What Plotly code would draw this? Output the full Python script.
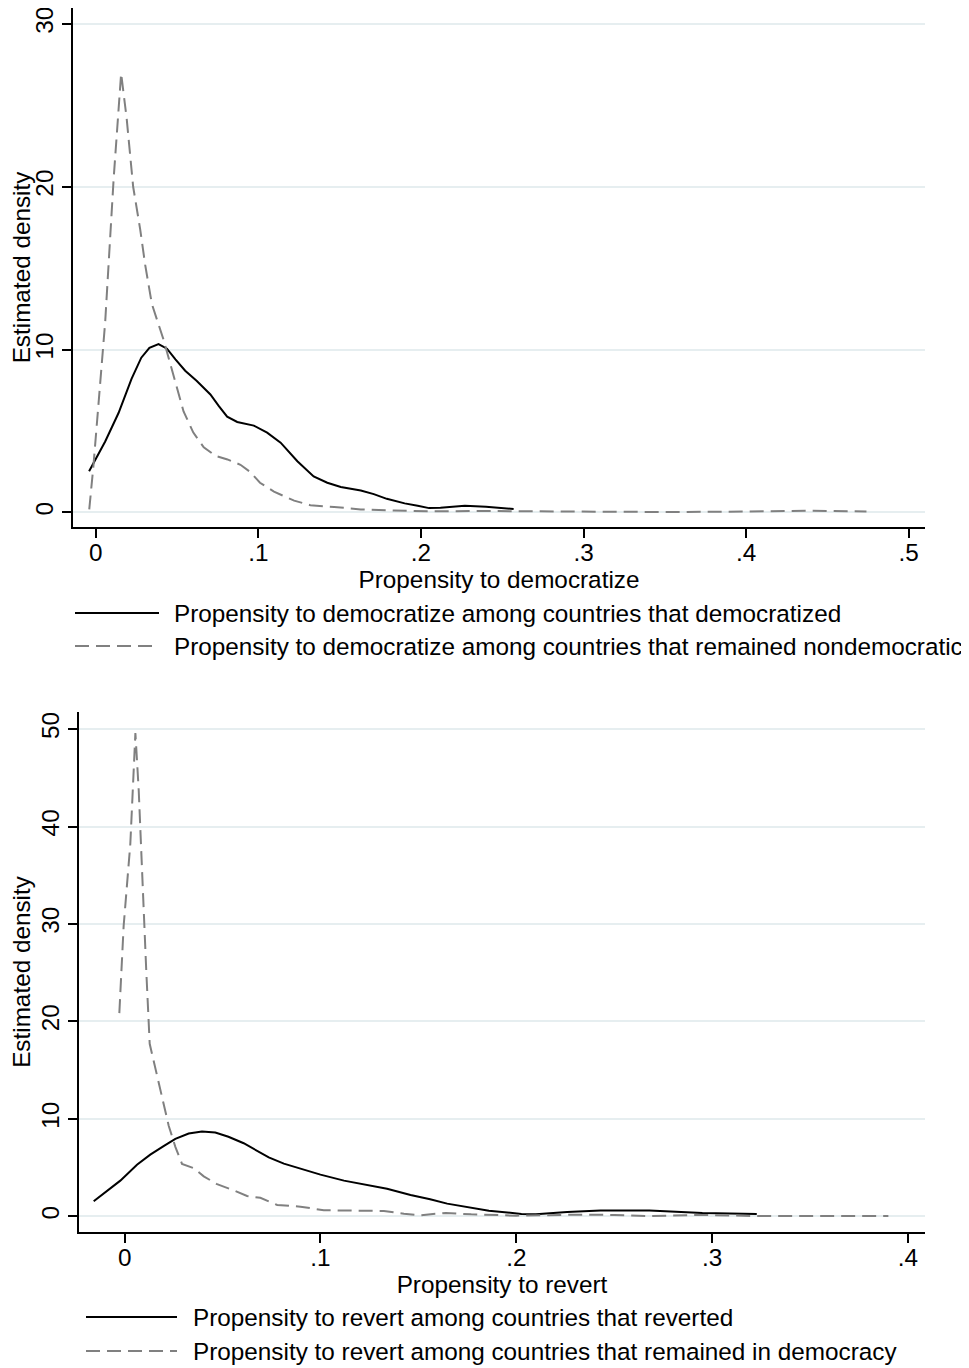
import plotly.graph_objects as go

# ---------------- data ----------------
# Top panel: propensity to democratize
dem_x = [-0.0041, 0.0058, 0.014, 0.022, 0.028, 0.033, 0.0386, 0.0438, 0.049, 0.055, 0.062, 0.0705,
         0.0756, 0.0808, 0.087, 0.0972, 0.1054, 0.1137, 0.124, 0.134, 0.1424, 0.1507, 0.163, 0.171,
         0.179, 0.19, 0.198, 0.205, 0.212, 0.227, 0.24, 0.257]
dem_y = [2.52, 4.35, 6.1, 8.2, 9.5, 10.1, 10.34, 10.05, 9.4, 8.7, 8.08, 7.24,
         6.54, 5.88, 5.55, 5.33, 4.9, 4.28, 3.14, 2.2, 1.82, 1.56, 1.34, 1.12,
         0.83, 0.55, 0.4, 0.26, 0.28, 0.4, 0.35, 0.2]

nondem_x = [-0.004, -0.0014, 0.0058, 0.011, 0.0156, 0.019, 0.023, 0.0273, 0.0304, 0.0345, 0.0417,
            0.048, 0.054, 0.060, 0.0664, 0.0736, 0.081, 0.089, 0.095, 0.101, 0.1096, 0.122, 0.132,
            0.1466, 0.163, 0.1835, 0.204, 0.24, 0.3, 0.35, 0.4, 0.44, 0.474]
nondem_y = [0.18, 2.9, 11.7, 20.5, 26.96, 24.2, 20.0, 17.4, 15.2, 12.8, 10.6,
            8.4, 6.2, 4.9, 4.0, 3.47, 3.25, 2.92, 2.48, 1.82, 1.27, 0.72, 0.44,
            0.33, 0.18, 0.11, 0.07, 0.08, 0.03, 0.02, 0.05, 0.1, 0.05]

# Bottom panel: propensity to revert
rev_x = [-0.0158, -0.009, -0.0022, 0.0063, 0.0131, 0.0199, 0.0259, 0.0327, 0.0395, 0.0463, 0.053,
         0.0608, 0.0676, 0.0736, 0.0813, 0.0898, 0.1, 0.112, 0.1238, 0.134, 0.146, 0.156, 0.1647,
         0.186, 0.2026, 0.21, 0.226, 0.243, 0.268, 0.279, 0.295, 0.3228]
rev_y = [1.54, 2.56, 3.66, 5.3, 6.33, 7.2, 7.94, 8.49, 8.7, 8.6, 8.16,
         7.5, 6.7, 6.04, 5.41, 4.86, 4.28, 3.66, 3.18, 2.82, 2.19, 1.76, 1.3,
         0.58, 0.24, 0.2, 0.45, 0.6, 0.6, 0.5, 0.34, 0.24]

stay_x = [-0.0027, -0.0005, 0.0029, 0.0049, 0.0055, 0.0072, 0.0089, 0.011, 0.0128, 0.0157, 0.019,
          0.0225, 0.0259, 0.0293, 0.0353, 0.0404, 0.0472, 0.0557, 0.0625, 0.0693, 0.0779, 0.0898,
          0.1017, 0.117, 0.1324, 0.1426, 0.151, 0.164, 0.177, 0.2, 0.232, 0.25, 0.268, 0.295,
          0.323, 0.39]
stay_y = [20.85, 29.8, 38.2, 47.4, 49.6, 43.7, 34.6, 25.4, 17.7, 15.2, 12.6,
          9.3, 7.13, 5.38, 4.94, 4.1, 3.3, 2.67, 2.08, 1.9, 1.17, 0.99,
          0.62, 0.62, 0.55, 0.26, 0.11, 0.35, 0.2, 0.07, 0.17, 0.14, 0.03, 0.14,
          0.03, 0.03]

top_xticks = [0, 0.1, 0.2, 0.3, 0.4, 0.5]
top_xlabels = ["0", ".1", ".2", ".3", ".4", ".5"]
top_yticks = [0, 10, 20, 30]
bot_xticks = [0, 0.1, 0.2, 0.3, 0.4]
bot_xlabels = ["0", ".1", ".2", ".3", ".4"]
bot_yticks = [0, 10, 20, 30, 40, 50]

top_xtitle = "Propensity to democratize"
bot_xtitle = "Propensity to revert"
ytitle = "Estimated density"
top_legend = ["Propensity to democratize among countries that democratized",
              "Propensity to democratize among countries that remained nondemocratic"]
bot_legend = ["Propensity to revert among countries that reverted",
              "Propensity to revert among countries that remained in democracy"]

# ---------------- styling ----------------
# The page body has an 8px margin: the figure starts at (8, 8) on the page,
# so layout positions below are given in page pixels, shifted by OFF.
OFF = 8
W, H = 969 - OFF, 1368 - OFF
FONT = "Liberation Sans, Arial, sans-serif"
FS = 24.3
GRID = "#e6eef0"
GRAY = "#808080"
DASH = "14px,7px"

def px_x(p):
    return (p - OFF) / W

def px_y(p):
    return 1 - (p - OFF) / H

fig = go.Figure()
fig.add_trace(go.Scatter(x=dem_x, y=dem_y, mode="lines", line=dict(color="black", width=2),
                         xaxis="x", yaxis="y", showlegend=False))
fig.add_trace(go.Scatter(x=nondem_x, y=nondem_y, mode="lines", line=dict(color=GRAY, width=2, dash=DASH),
                         xaxis="x", yaxis="y", showlegend=False))
fig.add_trace(go.Scatter(x=rev_x, y=rev_y, mode="lines", line=dict(color="black", width=2),
                         xaxis="x2", yaxis="y2", showlegend=False))
fig.add_trace(go.Scatter(x=stay_x, y=stay_y, mode="lines", line=dict(color=GRAY, width=2, dash=DASH),
                         xaxis="x2", yaxis="y2", showlegend=False))

xcommon = dict(showline=True, linecolor="black", linewidth=1.5, ticks="outside", ticklen=9,
               tickcolor="black", tickwidth=1.5, showgrid=False, zeroline=False,
               ticklabelstandoff=-6, ticklabeloverflow="allow",
               tickfont=dict(family=FONT, size=FS, color="black"))
ycommon = dict(showline=True, linecolor="black", linewidth=1.5, ticks="outside", ticklen=9,
               tickcolor="black", tickwidth=1.5, showgrid=True, gridcolor=GRID, gridwidth=1.5,
               zeroline=False, tickangle=-90, ticklabelstandoff=0, ticklabeloverflow="allow",
               tickfont=dict(family=FONT, size=FS, color="black"))

fig.update_layout(
    width=W, height=H,
    margin=dict(l=0, r=0, t=0, b=0),
    paper_bgcolor="white", plot_bgcolor="white",
    font=dict(family=FONT, size=FS, color="black"),
    xaxis=dict(xcommon, domain=[px_x(73), px_x(925)], range=[-0.0140, 0.510], anchor="y",
               tickvals=top_xticks, ticktext=top_xlabels,
               title=dict(text=top_xtitle, font=dict(family=FONT, size=FS), standoff=0)),
    yaxis=dict(ycommon, domain=[px_y(527), px_y(8)], range=[-0.9, 30.98], anchor="x",
               tickvals=top_yticks,
               title=dict(text=ytitle, font=dict(family=FONT, size=FS), standoff=0)),
    xaxis2=dict(xcommon, domain=[px_x(79), px_x(925)], range=[-0.0233, 0.4087], anchor="y2",
                tickvals=bot_xticks, ticktext=bot_xlabels,
                title=dict(text=bot_xtitle, font=dict(family=FONT, size=FS), standoff=0)),
    yaxis2=dict(ycommon, domain=[px_y(1232), px_y(712)], range=[-1.61, 51.75], anchor="x2",
                tickvals=bot_yticks,
                title=dict(text=ytitle, font=dict(family=FONT, size=FS), standoff=0)),
)

# manual legends (long line samples as in the original)
def legend_entry(x0, x1, xt, ypx, text, dashed):
    fig.add_shape(type="line", xref="paper", yref="paper",
                  x0=px_x(x0), x1=px_x(x1), y0=px_y(ypx), y1=px_y(ypx),
                  line=dict(color=GRAY if dashed else "black", width=2, dash=DASH if dashed else "solid"))
    fig.add_annotation(xref="paper", yref="paper", x=px_x(xt), y=px_y(ypx),
                       xanchor="left", yanchor="middle", showarrow=False, text=text,
                       borderpad=0, xshift=-1,
                       font=dict(family=FONT, size=FS, color="black"))

legend_entry(75, 159, 174, 613, top_legend[0], False)
legend_entry(75, 159, 174, 646, top_legend[1], True)
legend_entry(86, 177, 193, 1317, bot_legend[0], False)
legend_entry(86, 177, 193, 1351, bot_legend[1], True)

fig.write_html("out.html")
